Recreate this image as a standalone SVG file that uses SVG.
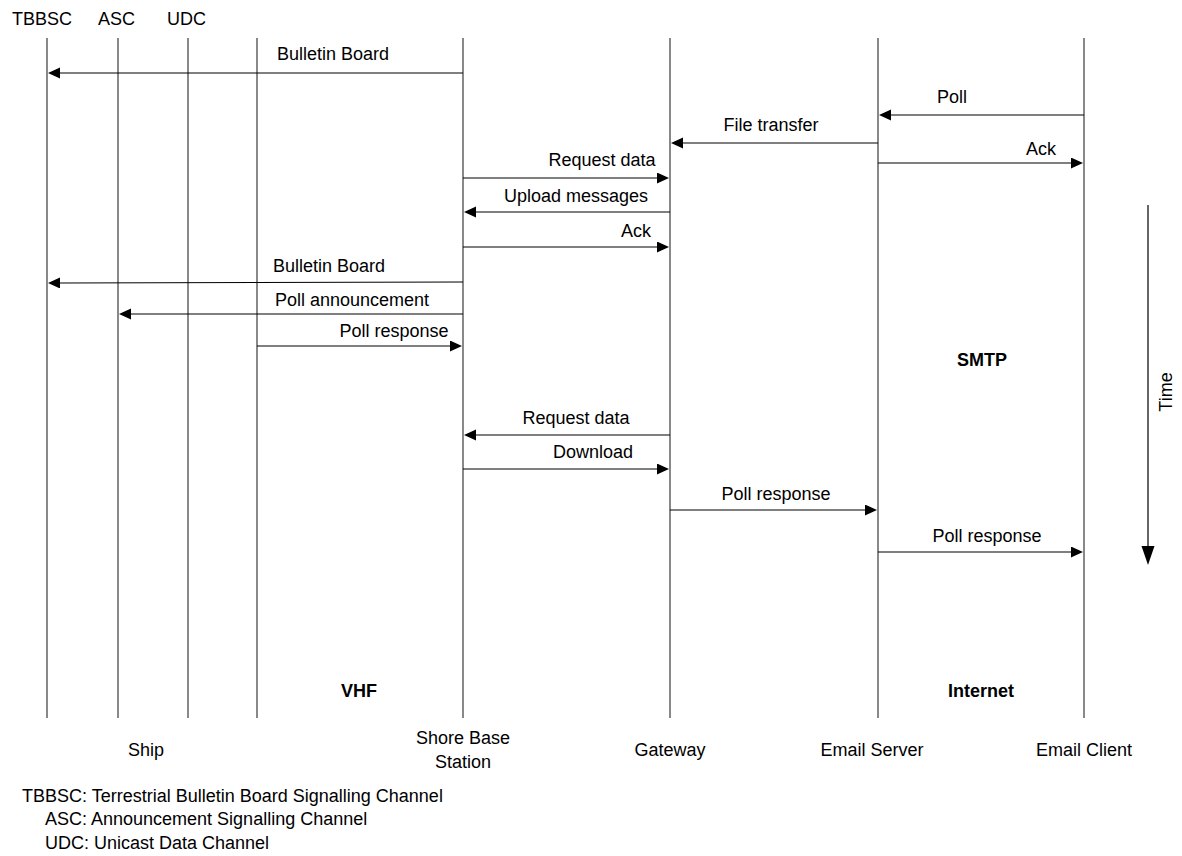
<svg xmlns="http://www.w3.org/2000/svg" width="1182" height="856" viewBox="0 0 1182 856">
<style>
text{font-family:"Liberation Sans",Arial,sans-serif;font-size:18px;fill:#000}
.b{font-weight:bold}
.m{text-anchor:middle}
.life{stroke:#3a3a3a;stroke-width:1.2;fill:none}
.msg{stroke:#000;stroke-width:1.2;fill:none;marker-end:url(#ah)}
</style>
<defs>
<marker id="ah" markerWidth="13" markerHeight="12" refX="0" refY="5.5" orient="auto" markerUnits="userSpaceOnUse">
<path d="M0,0 L12,5.5 L0,11 Z" fill="#000"/>
</marker>
<marker id="ahT" markerWidth="20" markerHeight="14" refX="0" refY="6.5" orient="auto" markerUnits="userSpaceOnUse">
<path d="M0,0 L19,6.5 L0,13 Z" fill="#000"/>
</marker>
</defs>
<g id="headers">
<text x="12" y="25">TBBSC</text>
<text x="98" y="25">ASC</text>
<text x="167" y="25">UDC</text>
</g>
<g id="lifelines">
<line id="tbbsc" class="life" x1="47" y1="38" x2="47" y2="718"/>
<line id="asc" class="life" x1="118" y1="38" x2="118" y2="718"/>
<line id="udc" class="life" x1="188" y1="38" x2="188" y2="718"/>
<line id="ship-edge" class="life" x1="257" y1="38" x2="257" y2="718"/>
<line id="shore" class="life" x1="463" y1="38" x2="463" y2="718"/>
<line id="gateway" class="life" x1="670" y1="38" x2="670" y2="718"/>
<line id="emailserver" class="life" x1="878" y1="38" x2="878" y2="718"/>
<line id="emailclient" class="life" x1="1084" y1="38" x2="1084" y2="718"/>
</g>
<g id="connectors">
<line class="msg" x1="463" y1="73" x2="60" y2="73"/>
<line class="msg" x1="1084" y1="115" x2="891" y2="115"/>
<line class="msg" x1="878" y1="143" x2="683" y2="143"/>
<line class="msg" x1="878" y1="163" x2="1071" y2="163"/>
<line class="msg" x1="463" y1="178" x2="657" y2="178"/>
<line class="msg" x1="670" y1="212" x2="476" y2="212"/>
<line class="msg" x1="463" y1="247" x2="657" y2="247"/>
<line class="msg" x1="463" y1="282" x2="60" y2="283"/>
<line class="msg" x1="463" y1="314" x2="131" y2="314"/>
<line class="msg" x1="257" y1="346" x2="450" y2="346"/>
<line class="msg" x1="670" y1="435" x2="476" y2="435"/>
<line class="msg" x1="463" y1="469" x2="657" y2="469"/>
<line class="msg" x1="670" y1="510" x2="865" y2="510"/>
<line class="msg" x1="878" y1="552" x2="1071" y2="552"/>
</g>
<g id="labels">
<text class="m" x="333" y="60">Bulletin Board</text>
<text class="m" x="952" y="103">Poll</text>
<text class="m" x="771" y="131">File transfer</text>
<text class="m" x="1041" y="155">Ack</text>
<text class="m" x="602" y="166">Request data</text>
<text class="m" x="576" y="202">Upload messages</text>
<text class="m" x="636" y="237">Ack</text>
<text class="m" x="329" y="272">Bulletin Board</text>
<text class="m" x="352" y="306">Poll announcement</text>
<text class="m" x="394" y="337">Poll response</text>
<text class="m" x="576" y="424">Request data</text>
<text class="m" x="593" y="458">Download</text>
<text class="m" x="776" y="500">Poll response</text>
<text class="m" x="987" y="542">Poll response</text>
</g>
<g id="protocols">
<text class="m b" x="982" y="366">SMTP</text>
<text class="m b" x="359" y="697">VHF</text>
<text class="m b" x="981" y="697">Internet</text>
</g>
<g id="time">
<line x1="1148" y1="205" x2="1148" y2="546" stroke="#000" stroke-width="1.2" marker-end="url(#ahT)"/>
<text class="m" transform="translate(1172,392) rotate(-90)">Time</text>
</g>
<g id="entities">
<text class="m" x="146" y="756">Ship</text>
<text class="m" x="463" y="744">Shore Base</text>
<text class="m" x="463" y="768">Station</text>
<text class="m" x="670" y="756">Gateway</text>
<text class="m" x="872" y="756">Email Server</text>
<text class="m" x="1084" y="756">Email Client</text>
</g>
<g id="legend">
<text x="22" y="802">TBBSC: Terrestrial Bulletin Board Signalling Channel</text>
<text x="45" y="825">ASC: Announcement Signalling Channel</text>
<text x="45" y="849">UDC: Unicast Data Channel</text>
</g>
</svg>
